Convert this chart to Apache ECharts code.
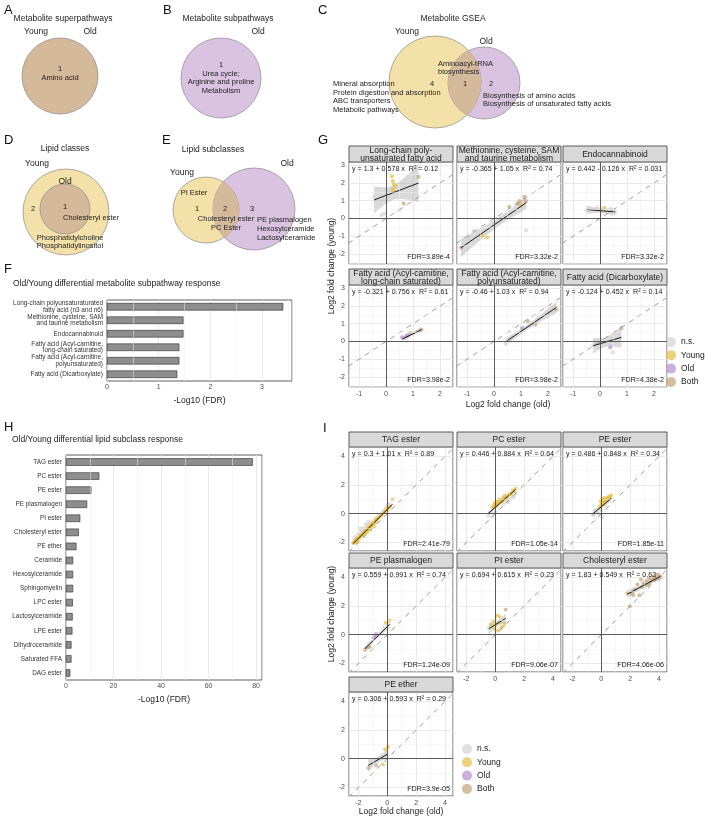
<!DOCTYPE html>
<html><head><meta charset="utf-8">
<script src="https://cdn.jsdelivr.net/npm/echarts@6/dist/echarts.min.js"></script>
<style>html,body{margin:0;padding:0;background:#fff}#c{width:711px;height:819px}</style>
</head><body><div id="c"></div>
<script>
const FONT = '"Liberation Sans", Arial, Helvetica, sans-serif';

// ---------- Panel F data ----------
const fCategories = ['Long-chain polyunsaturaturated\nfatty acid (n3 and n6)', 'Methionine, cysteine, SAM\nand taurine metabolism', 'Endocannabinoid', 'Fatty acid (Acyl-carnitine,\nlong-chain saturated)', 'Fatty acid (Acyl-carnitine,\npolyunsaturated)', 'Fatty acid (Dicarboxylate)'];
const fValues = [3.41, 1.48, 1.48, 1.40, 1.40, 1.36];

// ---------- Panel H data ----------
const hCategories = ['TAG ester','PC ester','PE ester','PE plasmalogen','PI ester','Cholesteryl ester','PE ether','Ceramide','Hexosylceramide','Sphingomyelin','LPC ester','Lactosylceramide','LPE ester','Dihydroceramide','Saturated FFA','DAG ester'];
const hValues = [78.6, 14.0, 10.7, 8.9, 6.0, 5.4, 4.4, 3.0, 3.0, 3.0, 2.9, 2.8, 2.7, 2.3, 2.3, 1.8];

// ---------- Panel G data ----------
const gTitles = ['Long-chain poly-\nunsaturated fatty acid', 'Methionine, cysteine, SAM\nand taurine metabolism', 'Endocannabinoid', 'Fatty acid (Acyl-carnitine,\nlong-chain saturated)', 'Fatty acid (Acyl-carnitine,\npolyunsaturated)', 'Fatty acid (Dicarboxylate)'];
const gEquations = ['y = 1.3 + 0.578 x  R\u00b2 = 0.12', 'y = -0.365 + 1.05 x  R\u00b2 = 0.74', 'y = 0.442 - 0.126 x  R\u00b2 = 0.031', 'y = -0.321 + 0.756 x  R\u00b2 = 0.61', 'y = -0.46 + 1.03 x  R\u00b2 = 0.94', 'y = -0.124 + 0.452 x  R\u00b2 = 0.14'];
const gFDR = ['FDR=3.89e-4', 'FDR=3.32e-2', 'FDR=3.32e-2', 'FDR=3.98e-2', 'FDR=3.98e-2', 'FDR=4.38e-2'];
const gIntercepts = [1.3, -0.365, 0.442, -0.321, -0.46, -0.124];
const gSlopes = [0.578, 1.05, -0.126, 0.756, 1.03, 0.452];

const gPtsLongChain = [[-0.44,1.22,'N'],[-0.06,0.28,'N'],[-0.17,0.19,'N'],[0.5,0.47,'N'],[0.08,1.32,'N'],[-0.3,1.05,'N'],
  [0.25,1.65,'Y'],[0.22,2.38,'Y'],[0.25,2.1,'Y'],[0.29,1.91,'Y'],[0.34,1.84,'Y'],[0.27,1.54,'Y'],
  [1.2,2.34,'B'],[0.65,0.84,'B']];
const gPtsMethionine = [[1.19,-0.66,'N'],[-0.75,-0.7,'N'],[0.25,0.05,'N'],[0,-0.25,'N'],[0.62,0.3,'N'],[-0.95,-1.25,'N'],[0.4,0.15,'N'],[-0.5,-0.85,'N'],[0.9,0.55,'N'],
  [-0.47,-0.94,'Y'],[-0.25,-1.07,'Y'],[1.0,0.75,'Y'],
  [-1.22,-1.65,'B'],[0.56,0.66,'B'],[0.88,0.84,'B'],[0.94,0.98,'B'],[1.12,1.22,'B'],[1.19,0.98,'B']];
const gPtsEndocannabinoid = [[-0.5,0.47,'N'],[-0.25,0.44,'N'],[0.56,0.36,'N'],[0.4,0.55,'N'],[0.05,0.52,'N'],[-0.1,0.6,'N'],[0.16,0.6,'Y']];
const gPtsFaSaturated = [[1.12,0.56,'N'],[0.7,0.2,'N'],[0.6,0.24,'O'],[0.81,0.34,'O'],[0.75,0.3,'O'],[0.9,0.47,'B'],[1.31,0.66,'B']];
const gPtsFaPolyunsat = [[0.44,-0.13,'N'],[0.5,0.0,'N'],[1.62,1.28,'N'],[0.7,0.22,'N'],[0.6,0.1,'N'],[1.04,0.75,'O'],[2.31,1.8,'B'],[1.25,1.15,'B'],[1.52,0.94,'B']];
const gPtsDicarboxylate = [[0.48,-0.6,'N'],[-0.12,-0.12,'N'],[0.12,0.02,'N'],[-0.25,-0.2,'N'],[0.25,-0.02,'N'],[0.0,-0.08,'N'],[-0.2,-0.3,'N'],[0.3,0.1,'N'],[0.38,-0.32,'O'],[0.79,0.75,'B']];
const gPoints = [gPtsLongChain, gPtsMethionine, gPtsEndocannabinoid, gPtsFaSaturated, gPtsFaPolyunsat, gPtsDicarboxylate];

// ---------- Panel I data ----------
const iTitles = ['TAG ester','PC ester','PE ester','PE plasmalogen','PI ester','Cholesteryl ester','PE ether'];
const iEquations = ['y = 0.3 + 1.01 x  R\u00b2 = 0.89','y = 0.446 + 0.884 x  R\u00b2 = 0.64','y = 0.486 + 0.848 x  R\u00b2 = 0.34','y = 0.559 + 0.991 x  R\u00b2 = 0.74','y = 0.694 + 0.615 x  R\u00b2 = 0.23','y = 1.83 + 0.549 x  R\u00b2 = 0.63','y = 0.306 + 0.593 x  R\u00b2 = 0.29'];
const iFDR = ['FDR=2.41e-79','FDR=1.05e-14','FDR=1.85e-11','FDR=1.24e-09','FDR=9.06e-07','FDR=4.06e-06','FDR=3.9e-05'];
const iIntercepts = [0.3, 0.446, 0.486, 0.559, 0.694, 1.83, 0.306];
const iSlopes = [1.01, 0.884, 0.848, 0.991, 0.615, 0.549, 0.593];

const iPtsTAG = [[-2.2,-1.6,'N'],[-2.0,-1.4,'N'],[-1.8,-1.2,'N'],[-1.6,-1.0,'N'],[-1.4,-0.8,'N'],[-1.2,-0.62,'N'],[-1.0,-0.5,'N'],[-0.6,-0.1,'N'],[-0.3,0.2,'N'],[0.0,0.55,'N'],[-0.1,0.4,'N'],[0.1,0.7,'N'],[-1.7,-1.0,'N'],[-1.5,-0.72,'N'],[-2.3,-1.7,'N'],[-0.8,-0.3,'N'],[-1.9,-1.05,'N'],[-1.3,-0.55,'N'],
  [-2.36,-2.05,'Y'],[-2.3,-1.95,'Y'],[-2.25,-2.02,'Y'],[-2.2,-1.84,'Y'],[-2.15,-1.92,'Y'],[-2.1,-1.74,'Y'],[-2.05,-1.82,'Y'],[-2.0,-1.66,'Y'],[-1.95,-1.73,'Y'],[-1.9,-1.55,'Y'],[-1.85,-1.62,'Y'],[-1.8,-1.44,'Y'],[-1.75,-1.53,'Y'],[-1.7,-1.36,'Y'],[-1.65,-1.43,'Y'],[-1.6,-1.24,'Y'],[-1.55,-1.31,'Y'],[-1.5,-1.14,'Y'],[-1.45,-1.23,'Y'],[-1.4,-1.04,'Y'],[-1.35,-1.13,'Y'],[-1.3,-0.96,'Y'],[-1.25,-1.02,'Y'],[-1.2,-0.84,'Y'],[-1.15,-0.93,'Y'],[-1.1,-0.77,'Y'],[-1.05,-0.81,'Y'],[-1.0,-0.67,'Y'],[-0.95,-0.73,'Y'],[-0.9,-0.55,'Y'],[-0.85,-0.61,'Y'],[-0.8,-0.45,'Y'],[-0.75,-0.53,'Y'],[-0.7,-0.35,'Y'],[-0.6,-0.3,'Y'],[-0.5,-0.2,'Y'],[-0.4,-0.1,'Y'],[-0.3,0.0,'Y'],[-0.2,0.1,'Y'],[-0.1,0.25,'Y'],[0.0,0.3,'Y'],[0.1,0.45,'Y'],[0.2,0.5,'Y'],[0.35,1.0,'Y'],[-1.6,-1.5,'Y'],[-1.2,-1.1,'Y'],[-0.9,-0.9,'Y'],[-2.1,-2.0,'Y'],[-1.4,-1.3,'Y']];
const iPtsPC = [[-0.5,-0.15,'N'],[-0.3,0.1,'N'],[0.6,0.7,'N'],[0.8,0.85,'N'],[1.0,1.0,'N'],[1.2,1.15,'N'],[1.4,1.4,'N'],[0.9,0.8,'N'],[1.3,1.2,'N'],[0.0,0.1,'N'],[-0.2,-0.2,'N'],
  [-0.2,0.45,'Y'],[-0.1,0.55,'Y'],[0.0,0.5,'Y'],[0.1,0.7,'Y'],[0.15,0.6,'Y'],[0.2,0.85,'Y'],[0.3,0.75,'Y'],[0.35,0.95,'Y'],[0.4,0.85,'Y'],[0.45,1.0,'Y'],[0.5,0.9,'Y'],[0.55,1.1,'Y'],[0.6,1.0,'Y'],[0.7,1.15,'Y'],[0.75,1.05,'Y'],[0.8,1.3,'Y'],[0.9,1.2,'Y'],[1.0,1.4,'Y'],[1.1,1.35,'Y'],[1.2,1.6,'Y'],[1.3,1.55,'Y'],[1.4,1.75,'Y'],[0.25,1.0,'Y'],[0.05,0.8,'Y'],[-0.05,0.7,'Y'],[0.65,1.25,'Y']];
const iPtsPE = [[-0.6,-0.05,'N'],[-0.4,0.1,'N'],[-0.3,0.2,'N'],[-0.2,0.0,'N'],[0.0,0.25,'N'],[0.05,-0.2,'N'],[-0.1,0.35,'N'],[0.3,0.55,'N'],
  [-0.1,0.5,'Y'],[0.0,0.6,'Y'],[0.05,0.75,'Y'],[0.1,0.65,'Y'],[0.15,0.85,'Y'],[0.2,0.8,'Y'],[0.25,0.95,'Y'],[0.3,0.9,'Y'],[0.35,1.05,'Y'],[0.4,1.0,'Y'],[0.45,1.15,'Y'],[0.5,1.05,'Y'],[0.55,1.2,'Y'],[0.6,1.1,'Y'],[0.7,1.3,'Y'],[-0.05,0.85,'Y'],[0.1,1.0,'Y'],[0.2,1.1,'Y']];
const iPtsPEplasm = [[-1.1,-0.55,'N'],[-0.7,-0.1,'N'],[-0.5,0.1,'N'],[-0.3,0.25,'N'],[-0.2,0.4,'N'],[-1.3,-0.65,'N'],
  [0.16,1.0,'Y'],[-0.12,0.83,'Y'],[-0.88,-0.07,'O'],[-0.78,0.05,'O'],[-0.95,-0.2,'O'],
  [-1.47,-0.97,'B'],[-1.35,-0.9,'B'],[-1.55,-1.05,'B'],[-1.2,-0.85,'B']];
const iPtsPI = [[-0.45,0.45,'N'],[-0.2,0.55,'N'],[0.0,0.9,'N'],[0.3,0.85,'N'],[0.6,1.05,'N'],
  [0.12,1.35,'Y'],[0.3,1.25,'Y'],[-0.15,0.95,'Y'],[0.05,0.7,'Y'],[0.19,0.28,'Y'],[-0.05,0.4,'Y'],[0.55,0.6,'Y'],[0.65,0.8,'Y'],[0.4,0.5,'Y'],[-0.3,0.7,'Y'],[0.25,0.9,'Y'],[0.72,1.75,'B']];
const iPtsChol = [[2.4,3.1,'N'],[3.0,3.3,'N'],
  [1.98,1.99,'B'],[2.1,2.9,'B'],[2.3,3.15,'B'],[2.5,3.5,'B'],[2.63,2.75,'B'],[2.8,3.3,'B'],[2.9,3.6,'B'],[3.0,3.5,'B'],[3.1,3.75,'B'],[3.2,3.45,'B'],[3.3,3.9,'B'],[3.4,3.7,'B'],[3.5,3.85,'B'],[3.6,4.05,'B'],[3.7,3.8,'B'],[3.8,3.95,'B'],[3.9,4.2,'B'],[4.0,3.9,'B'],[4.1,4.05,'B'],[2.2,2.75,'B'],[1.8,2.9,'B'],[3.3,3.55,'B'],[2.75,3.85,'B']];
const iPtsPEether = [[-0.9,-0.2,'N'],[-0.6,-0.05,'N'],[-0.4,0.2,'N'],[-0.2,0.3,'N'],[-1.1,-0.35,'N'],[-0.5,0.05,'N'],
  [0.05,0.83,'Y'],[-0.16,0.64,'Y'],[-0.3,-0.4,'Y'],[-1.32,-0.64,'B'],[-0.76,-0.48,'B']];
const iPoints = [iPtsTAG, iPtsPC, iPtsPE, iPtsPEplasm, iPtsPI, iPtsChol, iPtsPEether];

const legendNames = ['n.s.', 'Young', 'Old', 'Both'];

// ---------- styling ----------
const GROUPS = [['N','n.s.','rgba(212,212,212,0.9)'],['Y','Young','rgba(230,190,70,0.9)'],['O','Old','rgba(184,146,210,0.92)'],['B','Both','rgba(198,166,126,0.92)']];
const VENN = {young:'#f3e1a9', old:'#d9c3e1', both:'#d5b99b', stroke:'#8a8a8a'};

const option = {animation:false, backgroundColor:'#fff', grid:[], xAxis:[], yAxis:[], series:[], legend:[], graphic:{elements:[]}};
const G = option.graphic.elements;

function txt(x, y, text, size, o) {
  o = o || {};
  return {type:'text', x:x, y:y, rotation:o.rot||0, silent:true, z:100,
    style:{text:text, fill:o.color||'#222', fontSize:size, fontFamily:FONT, align:o.align||'center', verticalAlign:o.va||'middle', lineHeight:o.lh||size*1.15}};
}
function circ(cx, cy, r, fill, stroke) {
  return {type:'circle', silent:true, z:50, shape:{cx:cx, cy:cy, r:r}, style:{fill:fill||'none', stroke:stroke||'none', lineWidth:0.7}};
}
function lensPoints(c1, c2) {
  const dx = c2[0]-c1[0], dy = c2[1]-c1[1], d = Math.hypot(dx, dy);
  const a = (c1[2]*c1[2] - c2[2]*c2[2] + d*d) / (2*d);
  const h = Math.sqrt(c1[2]*c1[2] - a*a);
  const base = Math.atan2(dy, dx);
  const t1 = Math.atan2(h, a);
  const t2 = Math.atan2(h, d - a);
  const pts = [];
  for (let k = 0; k <= 40; k++) { const th = base - t1 + 2 * t1 * k / 40; pts.push([c1[0] + c1[2]*Math.cos(th), c1[1] + c1[2]*Math.sin(th)]); }
  for (let k = 0; k <= 40; k++) { const th = base + Math.PI - t2 + 2 * t2 * k / 40; pts.push([c2[0] + c2[2]*Math.cos(th), c2[1] + c2[2]*Math.sin(th)]); }
  return pts;
}
function venn2(c1, c2) {
  G.push(circ(c1[0], c1[1], c1[2], VENN.young));
  G.push(circ(c2[0], c2[1], c2[2], VENN.old));
  G.push({type:'polygon', silent:true, z:51, shape:{points:lensPoints(c1, c2)}, style:{fill:VENN.both}});
  G.push(circ(c1[0], c1[1], c1[2], null, VENN.stroke));
  G.push(circ(c2[0], c2[1], c2[2], null, VENN.stroke));
}

// ---------- panel letters ----------
[['A',4,10],['B',163,10],['C',318,10],['D',4,140],['E',162,140],['F',4,269],['G',318,140],['H',4,427],['I',323,428]].forEach(function(l){
  G.push(txt(l[1], l[2], l[0], 13, {align:'left', color:'#111'}));
});

// ---------- Venn A ----------
G.push(txt(63, 19, 'Metabolite superpathways', 8.5, {}));
G.push(txt(36, 32, 'Young', 8.5)); G.push(txt(90, 32, 'Old', 8.5));
G.push(circ(60, 76, 38, VENN.both, VENN.stroke));
G.push(txt(60, 69, '1', 7.5)); G.push(txt(60, 78, 'Amino acid', 7.5));

// ---------- Venn B ----------
G.push(txt(228, 19, 'Metabolite subpathways', 8.5));
G.push(txt(258, 32, 'Old', 8.5));
G.push(circ(221, 78, 40, VENN.old, VENN.stroke));
G.push(txt(221, 78, '1\nUrea cycle;\nArginine and proline\nMetabolism', 7.5, {lh:8.8}));

// ---------- Venn C ----------
G.push(txt(453, 19, 'Metabolite GSEA', 8.5));
G.push(txt(407, 32, 'Young', 8.5)); G.push(txt(486, 42, 'Old', 8.5));
venn2([435, 82, 46], [484, 83, 36]);
G.push(txt(438, 68, 'Aminoacyl-tRNA\nbiosynthesis', 7.5, {align:'left', lh:8.8}));
G.push(txt(432, 84, '4', 7.5)); G.push(txt(465, 84, '1', 7.5)); G.push(txt(491, 84, '2', 7.5));
G.push(txt(333, 97, 'Mineral absorption\nProtein digestion and absorption\nABC transporters\nMetabolic pathways', 7.5, {align:'left', lh:8.8}));
G.push(txt(483, 100, 'Biosynthesis of amino acids\nBiosynthesis of unsaturated fatty acids', 7.5, {align:'left', lh:8.8}));

// ---------- Venn D ----------
G.push(txt(65, 149, 'Lipid classes', 8.5));
G.push(txt(37, 164, 'Young', 8.5));
G.push(circ(66, 212, 43, VENN.young, VENN.stroke));
G.push(circ(65, 209, 25, VENN.both, VENN.stroke));
G.push(txt(65, 182, 'Old', 8.5));
G.push(txt(33, 209, '2', 7.5)); G.push(txt(65, 207, '1', 7.5));
G.push(txt(63, 218, 'Cholesteryl ester', 7.5, {align:'left'}));
G.push(txt(70, 242, 'Phosphatidylcholine\nPhosphatidylinositol', 7.5, {lh:8.8}));

// ---------- Venn E ----------
G.push(txt(213, 150, 'Lipid subclasses', 8.5));
G.push(txt(182, 173, 'Young', 8.5)); G.push(txt(287, 164, 'Old', 8.5));
venn2([206, 210, 33], [254, 209, 41]);
G.push(txt(194, 193, 'PI Ester', 7.5));
G.push(txt(197, 209, '1', 7.5)); G.push(txt(225, 209, '2', 7.5)); G.push(txt(252, 209, '3', 7.5));
G.push(txt(226, 223, 'Cholesteryl ester\nPC Ester', 7.5, {lh:9}));
G.push(txt(257, 229, 'PE plasmalogen\nHexosylceramide\nLactosylceramide', 7.5, {align:'left', lh:9}));

// ---------- helpers for axes ----------
function minorValues(r, major) {
  const st = major / 2, out = [];
  for (let k = Math.ceil(r[0] / st); k * st <= r[1]; k++) { if (k % 2 !== 0) out.push(+(k * st).toFixed(6)); }
  return out;
}
function majorFormatter(major) {
  return function (v) { const q = v / major; return Math.abs(q - Math.round(q)) < 1e-6 ? String(Math.round(q) * major) : ''; };
}

// ---------- Bar panels ----------
function barPanel(cats, vals, rect, xmax, major, title, titlePos) {
  const gi = option.grid.length;
  option.grid.push({left:rect[0], top:rect[1], width:rect[2], height:rect[3], show:true, backgroundColor:'#fff', borderColor:'#4d4d4d', borderWidth:0.9});
  option.xAxis.push({gridIndex:gi, type:'value', min:0, max:xmax, splitNumber:4,
    axisLine:{show:false}, axisTick:{show:false},
    axisLabel:{fontSize:7, color:'#4d4d4d', margin:3, fontFamily:FONT, formatter:majorFormatter(major)},
    splitLine:{show:true, lineStyle:{color:'#e4e4e4', width:0.8}},
    name:'-Log10 (FDR)', nameLocation:'middle', nameGap:15, nameTextStyle:{fontSize:8.5, color:'#222', fontFamily:FONT}});
  option.yAxis.push({gridIndex:gi, type:'category', data:cats, inverse:true, axisLine:{show:false}, axisTick:{show:false}, splitLine:{show:false},
    axisLabel:{interval:0, hideOverlap:false, fontSize:6.4, color:'#333', margin:4, lineHeight:6.9, fontFamily:FONT}});
  option.series.push({type:'bar', xAxisIndex:gi, yAxisIndex:gi, data:vals, barWidth:7.5, silent:true,
    itemStyle:{color:'#8e8e8e', borderColor:'#2b2b2b', borderWidth:0.6},
    markLine:{silent:true, symbol:'none', label:{show:false},
      data:minorValues([0, xmax], major).map(function(v){ return {xAxis:v, lineStyle:{color:'#eeeeee', width:0.5, type:'solid'}}; })}});
  G.push(txt(titlePos[0], titlePos[1], title, 8.5, {align:'left'}));
}
barPanel(fCategories, fValues, [107, 300, 185, 81], 3.58, 1, 'Old/Young differential metabolite subpathway response', [13, 284]);
barPanel(hCategories, hValues, [66, 455, 196, 225], 82.5, 20, 'Old/Young differential lipid subclass response', [12, 440]);

// ---------- Facet scatter panels ----------
function facet(p) {
  const gi = option.grid.length;
  option.grid.push({left:p.x, top:p.y, width:p.w, height:p.h, show:true, backgroundColor:'#fff', borderColor:'#4d4d4d', borderWidth:0.9});
  function ax(show, r, split) {
    return {gridIndex:gi, type:'value', min:r[0], max:r[1], splitNumber:split,
      axisLine:{show:false}, axisTick:{show:false},
      axisLabel:{show:show, fontSize:7, color:'#4d4d4d', margin:4, fontFamily:FONT, formatter:majorFormatter(p.major)},
      splitLine:{show:true, lineStyle:{color:'#e4e4e4', width:0.8}}};
  }
  option.xAxis.push(ax(p.showX, p.xr, 4));
  option.yAxis.push(ax(p.showY, p.yr, p.ySplit));
  const ml = [];
  minorValues(p.xr, p.major).forEach(function(v){ ml.push({xAxis:v, lineStyle:{color:'#eeeeee', width:0.5, type:'solid'}}); });
  minorValues(p.yr, p.major).forEach(function(v){ ml.push({yAxis:v, lineStyle:{color:'#eeeeee', width:0.5, type:'solid'}}); });
  ml.push({xAxis:0, lineStyle:{color:'#4a4a4a', width:0.9, type:'solid'}});
  ml.push({yAxis:0, lineStyle:{color:'#4a4a4a', width:0.9, type:'solid'}});
  const lo = Math.min(p.xr[0], p.yr[0]) - 1, hi = Math.max(p.xr[1], p.yr[1]) + 1;
  option.series.push({type:'line', xAxisIndex:gi, yAxisIndex:gi, data:[[lo, lo], [hi, hi]], symbol:'none', silent:true, clip:true,
    lineStyle:{color:'#9c9c9c', width:1, type:[5, 5]},
    markLine:{silent:true, symbol:'none', label:{show:false}, data:ml}});
  const pts = p.pts, n = pts.length;
  const xs = pts.map(function(q){ return q[0]; });
  const mx = xs.reduce(function(s, v){ return s + v; }, 0) / n;
  const sxx = xs.reduce(function(s, v){ return s + (v - mx) * (v - mx); }, 0);
  const sse = pts.reduce(function(s, q){ const r = q[1] - (p.a + p.b * q[0]); return s + r * r; }, 0);
  const sigma = Math.sqrt(sse / Math.max(1, n - 2));
  const tq = n > 30 ? 2.0 : (n > 10 ? 2.15 : 2.5);
  const x0 = Math.min.apply(null, xs), x1 = Math.max.apply(null, xs);
  const up = [], dn = [];
  for (let k = 0; k <= 30; k++) {
    const x = x0 + (x1 - x0) * k / 30;
    const se = sigma * Math.sqrt(1 / n + (x - mx) * (x - mx) / sxx);
    up.push([x, p.a + p.b * x + tq * se]); dn.push([x, p.a + p.b * x - tq * se]);
  }
  const poly = up.concat(dn.slice().reverse());
  option.series.push({type:'custom', xAxisIndex:gi, yAxisIndex:gi, clip:true, silent:true, data:[[x0, p.a + p.b * x0]],
    renderItem:function(params, api){ return {type:'polygon', shape:{points:poly.map(function(q){ return api.coord(q); })}, style:{fill:'rgba(150,150,150,0.36)'}}; }});
  GROUPS.forEach(function(g){
    option.series.push({type:'scatter', name:g[1], xAxisIndex:gi, yAxisIndex:gi, silent:true, symbolSize:p.ps,
      itemStyle:{color:g[2]}, data:pts.filter(function(q){ return q[2] === g[0]; }).map(function(q){ return [q[0], q[1]]; })});
  });
  option.series.push({type:'line', xAxisIndex:gi, yAxisIndex:gi, silent:true, symbol:'none', clip:true,
    data:[[x0, p.a + p.b * x0], [x1, p.a + p.b * x1]], lineStyle:{color:'#1a1a1a', width:1}});
  G.push({type:'rect', silent:true, z:60, shape:{x:p.x, y:p.y - p.sh, width:p.w, height:p.sh}, style:{fill:'#d9d9d9', stroke:'#4d4d4d', lineWidth:0.9}});
  G.push(txt(p.x + p.w / 2, p.y - p.sh / 2 + 0.5, p.title, 8.5, {lh:7.6, color:'#1a1a1a'}));
  G.push(txt(p.x + 3, p.y + 7, p.eq, 7.1, {align:'left', color:'#1a1a1a'}));
  G.push(txt(p.x + p.w - 3, p.y + p.h - 7, p.fdr, 7.1, {align:'right', color:'#1a1a1a'}));
}

const colX = [349, 457, 563], facetW = 104;
const gRowTop = [162, 285], gH = 102;
for (let i = 0; i < 6; i++) {
  const r = Math.floor(i / 3), c = i % 3;
  facet({x:colX[c], y:gRowTop[r], w:facetW, h:gH, xr:[-1.37, 2.48], yr:[-2.56, 3.18], major:1, ySplit:5,
    showX:r === 1, showY:c === 0, pts:gPoints[i], a:gIntercepts[i], b:gSlopes[i], title:gTitles[i], eq:gEquations[i], fdr:gFDR[i], ps:4.2, sh:16});
}
const iRowTop = [447, 568, 692], iH = 104;
for (let i = 0; i < 7; i++) {
  const r = Math.floor(i / 3), c = i % 3;
  facet({x:colX[c], y:iRowTop[r], w:facetW, h:iH, xr:[-2.65, 4.55], yr:[-2.6, 4.65], major:2, ySplit:4,
    showX:(r === 2) || (r === 1 && c > 0), showY:c === 0, pts:iPoints[i], a:iIntercepts[i], b:iSlopes[i], title:iTitles[i], eq:iEquations[i], fdr:iFDR[i], ps:3.8, sh:15});
}

G.push(txt(332, 266, 'Log2 fold change (young)', 8.5, {rot:Math.PI / 2}));
G.push(txt(508, 405, 'Log2 fold change (old)', 8.5));
G.push(txt(332, 614, 'Log2 fold change (young)', 8.5, {rot:Math.PI / 2}));
G.push(txt(401, 812, 'Log2 fold change (old)', 8.5));

const legendCommon = {data:legendNames, orient:'vertical', icon:'circle', itemWidth:10, itemHeight:10, itemGap:3.3, selectedMode:false,
  textStyle:{fontSize:8.5, color:'#222', fontFamily:FONT}, padding:0};
option.legend.push(Object.assign({left:666, top:337}, legendCommon));
option.legend.push(Object.assign({left:462, top:744}, legendCommon));

const chart = echarts.init(document.getElementById('c'), null, {renderer:'canvas'});
chart.setOption(option);
</script></body></html>
